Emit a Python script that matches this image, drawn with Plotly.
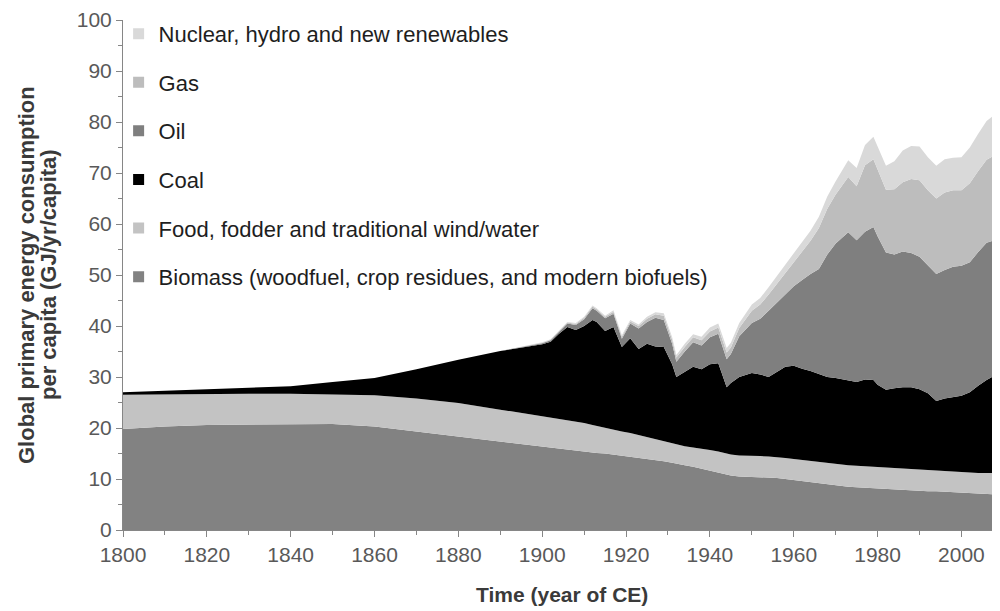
import plotly.graph_objects as go

# ---------------- data (GJ / yr / capita) ----------------
years = [1800, 1810, 1820, 1830, 1840, 1850, 1860, 1870, 1880, 1890,
         1900, 1902, 1904, 1906, 1908, 1910, 1912, 1913, 1915, 1917, 1919, 1921, 1923, 1925, 1927, 1929,
         1931, 1932, 1934, 1936, 1938, 1940, 1942, 1944, 1945, 1947,
         1950, 1952, 1954, 1956, 1958, 1960, 1962, 1964, 1966, 1968,
         1970, 1972, 1973, 1975, 1977, 1979, 1980, 1982, 1984, 1986, 1988,
         1990, 1992, 1994, 1996, 1998, 2000, 2002, 2004, 2006, 2008, 2009]

biomass = [19.8, 20.3, 20.6, 20.7, 20.7, 20.8, 20.3, 19.3, 18.3, 17.3,
           16.4, 16.2, 16.0, 15.8, 15.6, 15.4, 15.2, 15.1, 15.0, 14.8, 14.6, 14.4, 14.1, 13.9, 13.7, 13.5,
           13.2, 13.0, 12.7, 12.4, 12.0, 11.6, 11.2, 10.9, 10.7, 10.5,
           10.4, 10.4, 10.3, 10.2, 10.0, 9.8, 9.6, 9.3, 9.1, 8.9,
           8.7, 8.5, 8.5, 8.4, 8.3, 8.2, 8.2, 8.1, 8.0, 7.9, 7.8,
           7.7, 7.6, 7.6, 7.5, 7.5, 7.4, 7.3, 7.2, 7.1, 7.0, 7.0]

food = [6.7, 6.3, 6.1, 6.0, 6.0, 5.8, 6.1, 6.5, 6.6, 6.3,
        5.9, 5.9, 5.9, 5.8, 5.7, 5.6, 5.4, 5.3, 5.0, 4.8, 4.7, 4.6, 4.5, 4.3, 4.1, 3.9,
        3.8, 3.8, 3.7, 3.8, 4.0, 4.1, 4.2, 4.1, 4.1, 4.1,
        4.2, 4.1, 4.1, 4.1, 4.1, 4.1, 4.1, 4.2, 4.2, 4.2,
        4.2, 4.3, 4.2, 4.2, 4.2, 4.2, 4.2, 4.2, 4.2, 4.2, 4.2,
        4.2, 4.2, 4.1, 4.1, 4.0, 4.0, 4.0, 4.0, 4.1, 4.1, 4.1]

coal = [0.5, 0.7, 0.8, 1.1, 1.5, 2.4, 3.4, 5.7, 8.5, 11.5,
        14.1, 14.8, 16.6, 18.2, 17.9, 19.0, 20.6, 20.4, 19.0, 20.2, 16.6, 18.6, 16.9, 18.3, 18.2, 18.5,
        15.5, 13.2, 14.6, 15.8, 15.5, 16.8, 17.3, 13.0, 14.0, 15.4,
        16.2, 16.0, 15.6, 16.7, 17.9, 18.3, 17.9, 17.7, 17.3, 16.9,
        16.9, 16.7, 16.7, 16.4, 17.0, 17.0, 16.1, 15.2, 15.6, 15.9, 16.0,
        15.7, 15.0, 13.6, 14.2, 14.6, 14.9, 15.7, 17.1, 18.2, 19.2, 19.7]

oil = [0, 0, 0, 0, 0, 0, 0, 0, 0, 0,
       0.2, 0.3, 0.4, 0.7, 1.0, 1.3, 2.3, 2.2, 2.5, 2.6, 1.6, 2.9, 4.0, 4.3, 5.6, 5.3,
       4.0, 3.0, 4.0, 4.8, 4.7, 5.3, 5.8, 5.5, 5.7, 8.0,
       9.8, 10.9, 13.0, 13.6, 14.0, 15.6, 17.4, 19.0, 20.6, 24.0,
       26.4, 28.1, 29.0, 27.8, 29.0, 30.0, 29.1, 26.9, 26.2, 26.6, 26.3,
       26.0, 25.2, 24.9, 25.2, 25.5, 25.5, 25.5, 26.2, 26.9, 26.6, 25.7]

gas = [0, 0, 0, 0, 0, 0, 0, 0, 0, 0,
       0.1, 0.1, 0.2, 0.2, 0.2, 0.3, 0.3, 0.3, 0.3, 0.4, 0.4, 0.4, 0.5, 0.6, 0.7, 0.8,
       0.8, 0.8, 0.9, 1.0, 1.0, 1.1, 1.2, 1.3, 1.3, 1.6,
       2.4, 2.8, 3.2, 3.7, 4.3, 4.8, 5.6, 6.5, 8.0, 9.0,
       9.6, 10.4, 10.8, 10.6, 13.0, 13.3, 13.0, 12.3, 12.8, 13.6, 14.5,
       15.0, 14.6, 14.8, 15.2, 15.0, 14.8, 15.5, 15.9, 16.3, 16.6, 16.8]

nuclear = [0, 0, 0, 0, 0, 0, 0, 0, 0, 0,
           0.1, 0.1, 0.1, 0.1, 0.2, 0.2, 0.2, 0.2, 0.2, 0.3, 0.3, 0.3, 0.3, 0.4, 0.4, 0.5,
           0.5, 0.5, 0.6, 0.6, 0.7, 0.8, 0.8, 0.9, 0.9, 1.0,
           1.2, 1.3, 1.4, 1.5, 1.7, 1.8, 1.9, 2.0, 2.2, 2.4,
           2.6, 3.0, 3.3, 3.6, 4.0, 4.4, 4.6, 4.7, 5.5, 6.2, 6.5,
           6.6, 6.5, 6.4, 6.5, 6.4, 6.5, 7.0, 7.3, 7.6, 8.0, 8.2]

series_names = ["Biomass (woodfuel, crop residues, and modern biofuels)",
                "Food, fodder and traditional wind/water",
                "Coal", "Oil", "Gas", "Nuclear, hydro and new renewables"]
series_values = [biomass, food, coal, oil, gas, nuclear]
series_colors = ["#828282", "#c3c3c3", "#000000", "#7f7f7f", "#bdbdbd", "#d9d9d9"]

x_tick_labels = [str(y) for y in range(1800, 2001, 20)]
y_tick_labels = [str(v) for v in range(0, 101, 10)]

FONT = "Liberation Sans, Arial, sans-serif"

fig = go.Figure()

# stacked areas
for name, vals, col in zip(series_names, series_values, series_colors):
    fig.add_trace(go.Scatter(
        x=years, y=vals, name=name, stackgroup="energy", mode="lines",
        line=dict(width=0, color=col), fillcolor=col,
        showlegend=False, hoverinfo="skip"))

# legend entries (small squares), top item first
for i, (name, col) in enumerate(reversed(list(zip(series_names, series_colors)))):
    fig.add_trace(go.Scatter(
        x=[None], y=[None], mode="markers", name=name,
        marker=dict(symbol="square", size=11, color=col),
        legendgroup=f"g{i}", showlegend=True, hoverinfo="skip"))

# the page body has an 8px default margin, so the figure is sized 8px smaller
fig.update_layout(
    width=992, height=603,
    margin=dict(l=115, r=0, t=12, b=81),
    paper_bgcolor="white", plot_bgcolor="white",
    font=dict(family=FONT, size=21, color="#595959"),
    showlegend=True,
    legend=dict(x=-0.005, y=1.014, xanchor="left", yanchor="top",
                bgcolor="rgba(0,0,0,0)", font=dict(size=22, color="#1e1e1e", family=FONT),
                traceorder="grouped", tracegroupgap=17, itemwidth=30),
    xaxis=dict(range=[1800, 2009.2], tickmode="array",
               tickvals=[int(t) for t in x_tick_labels], ticktext=x_tick_labels,
               showgrid=False, zeroline=False, showline=True, linecolor="#868686", linewidth=1,
               ticks="outside", ticklen=6, tickcolor="#868686",
               minor=dict(dtick=10, ticks="outside", ticklen=4, tickcolor="#868686", showgrid=False),
               tickfont=dict(size=21, color="#595959")),
    yaxis=dict(range=[0, 100], tickmode="array",
               tickvals=[int(t) for t in y_tick_labels], ticktext=y_tick_labels,
               showgrid=False, zeroline=False, showline=True, linecolor="#868686", linewidth=1,
               ticks="outside", ticklen=6, tickcolor="#868686",
               minor=dict(dtick=5, ticks="outside", ticklen=4, tickcolor="#868686", showgrid=False),
               tickfont=dict(size=21, color="#595959")),
    annotations=[
        dict(text="<b>Global primary energy consumption</b>",
             x=0, xref="paper", y=0.5, yref="paper", xanchor="center", yanchor="middle",
             xshift=26 - 123, textangle=-90, showarrow=False,
             font=dict(size=22, color="#3a3a3a", family=FONT)),
        dict(text="<b>per capita (GJ/yr/capita)</b>",
             x=0, xref="paper", y=0.5, yref="paper", xanchor="center", yanchor="middle",
             xshift=48 - 123, textangle=-90, showarrow=False,
             font=dict(size=22, color="#3a3a3a", family=FONT)),
        dict(text="<b>Time (year of CE)</b>", x=0.5, xref="paper", y=0, yref="paper",
             xanchor="center", yanchor="middle", yshift=-64, showarrow=False,
             font=dict(size=21, color="#3a3a3a", family=FONT)),
    ],
)

fig.write_html("out.html")
